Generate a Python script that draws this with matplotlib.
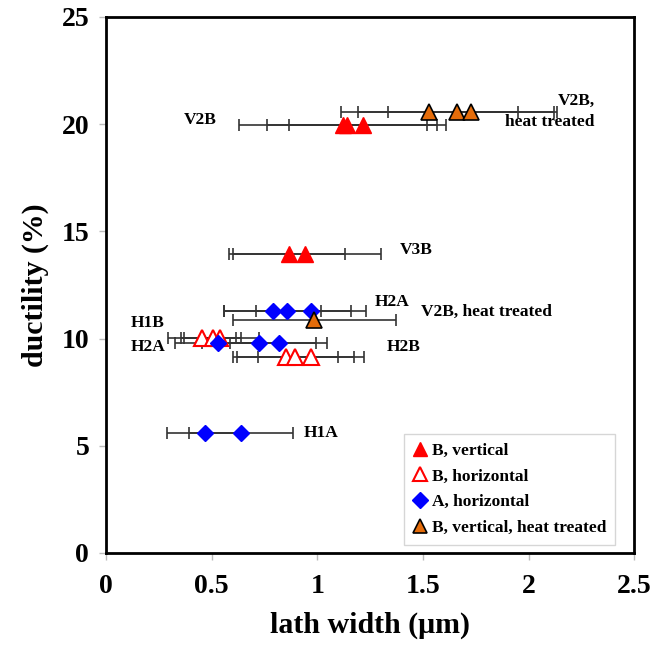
"""
Ductility vs. lath width for A/B builds, with lath width scatter as x error bars.
"""
import matplotlib.pyplot as plt
from matplotlib.lines import Line2D

# B, vertical (V2B row, then V3B row)
vert_x = [1.12, 1.14, 1.216, 0.868, 0.941]
vert_y = [19.95, 19.95, 19.95, 13.93, 13.93]
vert_err = [0.49, 0.377, 0.35, 0.265, 0.36]

# B, horizontal (H1B row, then H2B row)
horb_x = [0.456, 0.505, 0.54, 0.85, 0.895, 0.97]
horb_y = [10.01, 10.01, 10.01, 9.13, 9.13, 9.13]
horb_err = [0.16, 0.135, 0.185, 0.25, 0.277, 0.25]

# A, horizontal (H2A upper, H2A lower, H1A)
hora_x = [0.789, 0.859, 0.97, 0.528, 0.725, 0.817, 0.469, 0.638]
hora_y = [11.26, 11.26, 11.26, 9.78, 9.78, 9.78, 5.58, 5.58]
hora_err = [0.23, 0.30, 0.26, 0.20, 0.27, 0.23, 0.18, 0.245]

# B, vertical, heat treated
heat_x = [1.53, 1.662, 1.726, 0.985]
heat_y = [20.55, 20.55, 20.55, 10.87]
heat_err = [0.42, 0.471, 0.393, 0.385]

labels = ['V2B', 'V2B,\nheat treated', 'V3B', 'H2A', 'V2B, heat treated',
          'H1B', 'H2A', 'H2B', 'H1A']
label_pos = [(0.445, 20.2), (2.312, 20.59), (1.47, 14.13), (1.352, 11.71),
             (1.80, 11.24), (0.199, 10.73), (0.199, 9.61), (1.409, 9.61),
             (1.017, 5.60)]
label_ha = ['center', 'right', 'center', 'center', 'center',
            'center', 'center', 'center', 'center']

plt.rcParams['font.family'] = ['Liberation Serif', 'DejaVu Serif']
plt.rcParams['font.weight'] = 'bold'

fig = plt.figure(figsize=(6.7, 6.46), dpi=100)
ax = fig.add_axes([0.158, 0.144, 0.789, 0.830])

orange = '#E46C0A'
err_kw = dict(fmt='none', ecolor='#333333', elinewidth=1.2, capsize=4,
              capthick=1.2, zorder=2)

for xs, ys, es in [(vert_x, vert_y, vert_err), (horb_x, horb_y, horb_err),
                   (hora_x, hora_y, hora_err), (heat_x, heat_y, heat_err)]:
    ax.errorbar(xs, ys, xerr=es, **err_kw)

ax.plot(vert_x, vert_y, '^', ms=11, color='#FF0000', mec='#FF0000',
        ls='none', zorder=3)
ax.plot(horb_x, horb_y, '^', ms=11, mfc='white', mec='#FF0000', mew=1.5,
        ls='none', zorder=3)
ax.plot(hora_x, hora_y, 'D', ms=8, color='#0000FF', mec='#0000FF',
        ls='none', zorder=3)
ax.plot(heat_x, heat_y, '^', ms=11, mfc=orange, mec='black', mew=1.2,
        ls='none', zorder=3)

for txt, (tx, ty), ha in zip(labels, label_pos, label_ha):
    ax.text(tx, ty, txt, ha=ha, va='center', fontsize=12.5, fontweight='bold',
            multialignment='right', linespacing=1.45)

ax.set_xlim(0, 2.5)
ax.set_ylim(0, 25)
ax.set_xticks([0, 0.5, 1, 1.5, 2, 2.5])
ax.set_xticklabels(['0', '0.5', '1', '1.5', '2', '2.5'])
ax.set_yticks([0, 5, 10, 15, 20, 25])
ax.tick_params(axis='both', direction='out', length=5, width=1,
               color='#BBBBBB', labelsize=20)
ax.tick_params(axis='x', pad=10)
ax.tick_params(axis='y', pad=7)
for lbl in ax.get_xticklabels() + ax.get_yticklabels():
    lbl.set_fontweight('bold')

for sp in ax.spines.values():
    sp.set_linewidth(2)
    sp.set_color('black')

ax.set_xlabel('lath width (\u03bcm)', fontsize=21.5, fontweight='bold', labelpad=9)
ax.set_ylabel('ductility (%)', fontsize=21.5, fontweight='bold', labelpad=9)

handles = [
    Line2D([], [], marker='^', ls='none', ms=10, color='#FF0000'),
    Line2D([], [], marker='^', ls='none', ms=10, mfc='white', mec='#FF0000', mew=1.5),
    Line2D([], [], marker='D', ls='none', ms=8, color='#0000FF'),
    Line2D([], [], marker='^', ls='none', ms=10, mfc=orange, mec='black', mew=1.2),
]
names = ['B, vertical', 'B, horizontal', 'A, horizontal', 'B, vertical, heat treated']
leg = ax.legend(handles, names, loc='upper left', bbox_to_anchor=(0.564, 0.222),
                borderaxespad=0, handlelength=0.8, handletextpad=0.3,
                labelspacing=0.55, borderpad=0.5, fancybox=False,
                prop={'weight': 'bold', 'size': 12.5})
leg.get_frame().set_edgecolor('#CCCCCC')
leg.get_frame().set_linewidth(1)

fig.savefig('out.png', dpi=100)
